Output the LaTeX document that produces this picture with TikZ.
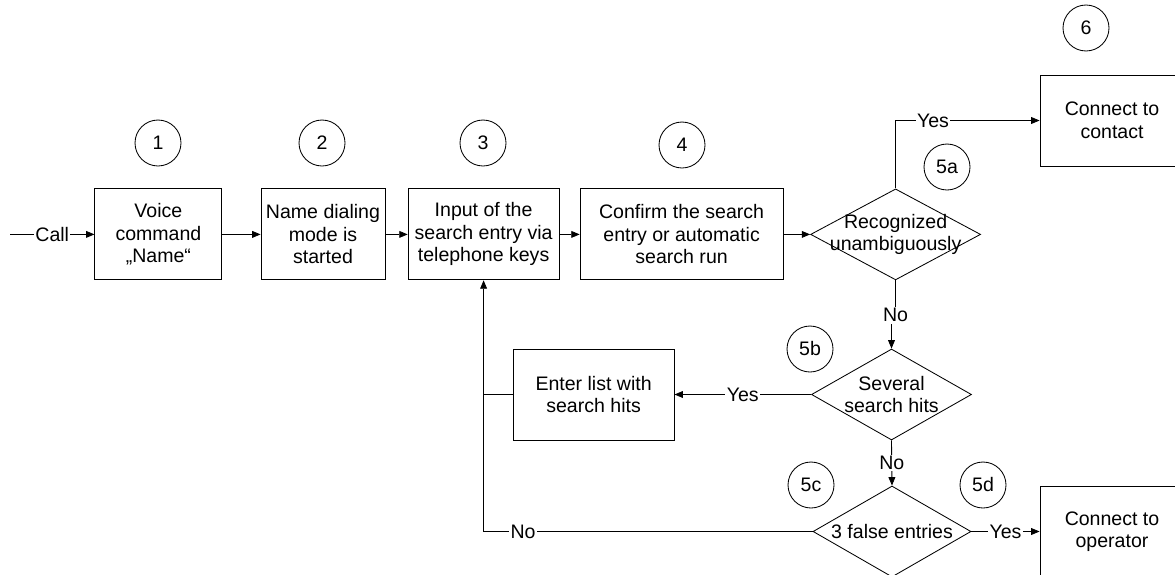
\documentclass[tikz,border=0pt]{standalone}
\usepackage{fontspec}
\setmainfont{Liberation Sans}
\usetikzlibrary{arrows.meta,shapes.geometric}

\begin{document}
\begin{tikzpicture}[box/.style={draw,align=center,minimum height=2.275cm,inner sep=2pt,line width=0.6pt},decide/.style={draw,diamond,inner sep=0pt,minimum height=2.275cm,line width=0.6pt},num/.style={draw,circle,minimum size=1.15cm,inner sep=0pt,line width=0.6pt},arrow/.style={-{Triangle[length=2.1mm,width=1.7mm]},line width=0.6pt},line/.style={line width=0.6pt},lbl/.style={fill=white,inner sep=1pt},font=\fontsize{13.9}{16}\selectfont]
\clip (0,0) rectangle (29.375,-14.375);
\coordinate (call) at (0.25,-5.86);
\node[box,minimum width=3.175cm] (b1) at (3.96,-5.86) {Voice\\command\\„Name“};
\node[box,minimum width=3.1cm] (b2) at (8.075,-5.86) {Name dialing\\mode is\\started};
\node[box,minimum width=3.775cm] (b3) at (12.09,-5.86) {Input of the\\search entry via\\telephone keys};
\node[box,minimum width=5.075cm] (b4) at (17.04,-5.86) {Confirm the search\\entry or automatic\\search run};
\node[decide,minimum width=4.25cm,label={[align=center]center:Recognized\\unambiguously}] (d5a) at (22.39,-5.86) {};
\node[box,minimum width=3.6cm] (b6) at (27.8,-3.0125) {Connect to\\contact};
\node[decide,minimum width=4.0cm,label={[align=center]center:Several\\search hits}] (d5b) at (22.2875,-9.8625) {};
\node[box,minimum width=4.025cm] (b5b) at (14.84,-9.8625) {Enter list with\\search hits};
\node[decide,minimum width=3.95cm,label={center:3 false entries}] (d5c) at (22.3,-13.2875) {};
\node[box,minimum width=3.6cm] (b7) at (27.8,-13.2875) {Connect to\\operator};
% step numbers
\node[num] (c1) at (3.95,-3.575) {1};
\node[num] (c2) at (8.05,-3.575) {2};
\node[num] (c3) at (12.075,-3.575) {3};
\node[num] (c4) at (17.05,-3.625) {4};
\node[num] (c5a) at (23.675,-4.175) {5a};
\node[num] (c6) at (27.15,-0.7) {6};
\node[num] (c5b) at (20.25,-8.725) {5b};
\node[num] (c5c) at (20.275,-12.125) {5c};
\node[num] (c5d) at (24.575,-12.125) {5d};
% connectors
\draw[arrow] (call) -- node[lbl]{Call} (b1);
\draw[arrow] (b1) -- (b2);
\draw[arrow] (b2) -- (b3);
\draw[arrow] (b3) -- (b4);
\draw[arrow] (b4) -- (d5a);
\draw[arrow] (d5a.north) |- node[lbl,pos=0.63]{Yes} (b6.west);
\draw[arrow] (d5a.south) -- ++(0,-0.875) node[lbl]{No} -| (d5b.north);
\draw[arrow] (d5b.west) -- node[lbl]{Yes} (b5b.east);
\draw[arrow] (d5b.south) -- node[lbl]{No} (d5c.north);
\draw[arrow] (d5c.east) -- node[lbl]{Yes} (b7.west);
\draw[arrow] (d5c.west) -| node[lbl,pos=0.44]{No} (b3.south);
\draw[line] (b5b.west) -- (b5b.west -| b3.south);
\end{tikzpicture}
\end{document}
